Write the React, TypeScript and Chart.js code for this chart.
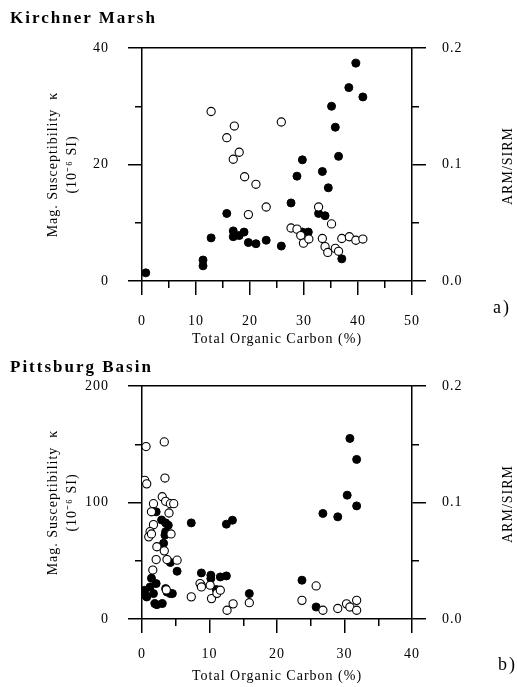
import React, { useEffect, useRef } from 'react';
import { Chart, registerables } from 'chart.js';

Chart.register(...registerables);

const FONT = '"Liberation Serif", "Times New Roman", serif';

// ---------- Kirchner Marsh (panel a) ----------
// open circles: magnetic susceptibility kappa (10^-6 SI), left axis
const kmKappaToc = [12.8, 15.7, 17.1, 18.0, 16.9, 19.0, 21.1, 19.7, 23.0, 25.8, 27.6, 28.7, 29.4, 29.9, 30.9, 32.7, 35.1, 33.4, 33.9, 34.4, 35.8, 36.4, 37.0, 38.4, 39.6, 40.9];
const kmKappa = [29.1, 24.6, 26.6, 22.1, 20.9, 17.9, 16.6, 11.4, 12.7, 27.3, 9.1, 8.9, 7.8, 6.5, 7.2, 12.7, 9.8, 7.3, 5.9, 4.9, 5.6, 5.1, 7.3, 7.6, 7.0, 7.2];
// filled circles: ARM/SIRM, right axis
const kmArmToc = [0.7, 11.3, 11.3, 12.8, 15.7, 16.9, 16.9, 18.0, 18.9, 19.7, 21.1, 23.0, 25.8, 27.6, 28.7, 29.7, 29.7, 30.8, 32.7, 33.9, 33.4, 34.5, 35.1, 35.8, 36.4, 37.0, 38.3, 39.6, 40.9];
const kmArm = [0.007, 0.018, 0.013, 0.037, 0.058, 0.043, 0.038, 0.039, 0.042, 0.033, 0.032, 0.035, 0.030, 0.067, 0.090, 0.104, 0.042, 0.042, 0.058, 0.056, 0.094, 0.080, 0.150, 0.132, 0.107, 0.019, 0.166, 0.187, 0.158];
const kmXTicks = [0, 10, 20, 30, 40, 50];
const kmXMinor = [5, 15, 25, 35, 45];
const kmKappaTicks = [0, 20, 40];
const kmKappaMinor = [10, 30];

// ---------- Pittsburg Basin (panel b) ----------
const pbKappaToc = [0.6, 3.3, 0.4, 0.7, 3.4, 3.0, 3.5, 4.2, 4.7, 1.7, 4.0, 1.4, 1.7, 1.2, 1.0, 1.4, 4.3, 2.2, 3.3, 2.1, 3.7, 5.2, 1.6, 3.6, 7.3, 8.6, 8.8, 10.1, 10.3, 11.1, 11.6, 12.6, 13.5, 15.9, 23.7, 25.8, 26.8, 29.0, 30.3, 30.8, 31.8, 31.8];
const pbKappa = [148, 152, 119, 116, 121, 105, 101, 99, 99, 99, 91, 92, 81, 75, 70.5, 73, 73, 62, 58.5, 51, 51, 50.5, 42, 25, 19, 30.4, 27.5, 29, 17.5, 22, 24.7, 7.5, 13, 14, 16, 28.4, 7.5, 9, 13, 10.3, 16, 7.5];
const pbArmToc = [2.1, 2.9, 3.5, 3.9, 3.5, 3.4, 3.2, 4.2, 5.2, 7.3, 12.5, 13.4, 8.8, 8.8, 10.2, 10.2, 11.6, 12.5, 11.0, 15.9, 0.4, 0.7, 0.5, 1.2, 1.4, 2.1, 1.7, 1.9, 2.2, 3.0, 3.5, 3.7, 4.2, 4.5, 23.7, 25.8, 26.8, 29.0, 30.4, 31.8, 30.8, 31.8];
const pbArm = [0.092, 0.085, 0.0825, 0.0805, 0.075, 0.072, 0.065, 0.0485, 0.041, 0.0825, 0.0814, 0.0848, 0.0395, 0.029, 0.0376, 0.0347, 0.0361, 0.037, 0.0253, 0.0218, 0.0247, 0.0189, 0.0203, 0.0275, 0.035, 0.0304, 0.0218, 0.0132, 0.0123, 0.0132, 0.0261, 0.0232, 0.0218, 0.0218, 0.0333, 0.0103, 0.0906, 0.0877, 0.1063, 0.0971, 0.155, 0.137];
const pbXTicks = [0, 10, 20, 30, 40];
const pbXMinor = [5, 15, 25, 35];
const pbKappaTicks = [0, 100, 200];
const pbKappaMinor = [50, 150];

// shared right axis
const armTicks = [0.0, 0.1, 0.2];
const armMinor = [0.05, 0.15];

type PanelCfg = any;

const LW = 1.5;
const INK = '#000';

const spacingPlugin = {
  id: 'spacing',
  beforeDraw(chart: any) {
    chart.ctx.letterSpacing = '1px';
  },
};

function setTicks(values: number[]) {
  return (s: any) => { s.ticks = values.map((v) => ({ value: v })); };
}

function Panel({ cfg, top }: { cfg: PanelCfg; top: number }) {
  const ref = useRef<HTMLCanvasElement | null>(null);
  useEffect(() => {
    if (!ref.current) return;
    const tickFont = { family: FONT, size: 14 };
    const xMin = cfg.xTicks[0], xMax = cfg.xTicks[cfg.xTicks.length - 1];
    const yMin = cfg.yTicks[0], yMax = cfg.yTicks[cfg.yTicks.length - 1];
    const aMin = armTicks[0], aMax = armTicks[armTicks.length - 1];
    const majorGrid = { display: true, drawOnChartArea: false, drawTicks: true, tickLength: 14, color: INK, lineWidth: LW };
    const minorGrid = { display: true, drawOnChartArea: false, drawTicks: true, tickLength: 7, color: INK, lineWidth: LW };
    const solidBorder = { display: true, color: INK, width: LW };
    const noBorder = { display: false };
    const hiddenTicks = { display: false, autoSkip: false };
    const chart = new Chart(ref.current, {
      type: 'scatter',
      data: {
        datasets: [
          { label: 'kappa', data: cfg.kToc.map((x: number, i: number) => ({ x, y: cfg.k[i] })), xAxisID: 'x', yAxisID: 'y', pointRadius: 4.1, pointBorderWidth: 1.1, pointBackgroundColor: '#fff', pointBorderColor: INK },
          { label: 'ARM/SIRM', data: cfg.aToc.map((x: number, i: number) => ({ x, y: cfg.a[i] })), xAxisID: 'x', yAxisID: 'y2', pointRadius: 4, pointBorderWidth: 1, pointBackgroundColor: INK, pointBorderColor: INK },
        ],
      },
      options: {
        animation: false,
        responsive: false,
        maintainAspectRatio: false,
        events: [],
        layout: { padding: { top: cfg.areaTop, left: 0, right: 0, bottom: 0 } },
        plugins: { legend: { display: false }, tooltip: { enabled: false }, title: { display: false } },
        scales: {
          x: {
            type: 'linear', axis: 'x', position: 'bottom', weight: 0, display: true, min: xMin, max: xMax,
            afterBuildTicks: setTicks(cfg.xTicks),
            afterFit: (s: any) => { s.height = cfg.xHeight; },
            grid: majorGrid, border: solidBorder,
            ticks: { padding: cfg.xPad, font: tickFont, color: INK, maxRotation: 0, autoSkip: false, callback: (t: any) => String(t) },
            title: { display: true, text: 'Total Organic Carbon (%)', font: tickFont, color: INK, padding: { top: 0, bottom: cfg.xTitlePad } },
          },
          xm: {
            type: 'linear', axis: 'x', position: 'bottom', weight: -10, display: true, min: xMin, max: xMax,
            afterBuildTicks: setTicks(cfg.xMinor),
            afterFit: (s: any) => { s.height = 0; },
            grid: minorGrid, border: noBorder, ticks: hiddenTicks,
          },
          xt: {
            type: 'linear', axis: 'x', position: 'top', weight: 0, display: true, min: xMin, max: xMax,
            afterFit: (s: any) => { s.height = 0; },
            grid: { display: false, drawTicks: false, lineWidth: LW }, border: solidBorder, ticks: hiddenTicks,
          },
          y: {
            type: 'linear', axis: 'y', position: 'left', weight: 0, display: true, min: yMin, max: yMax,
            afterBuildTicks: setTicks(cfg.yTicks),
            afterFit: (s: any) => { s.width = 142; },
            grid: majorGrid, border: solidBorder,
            ticks: { padding: 19, font: tickFont, color: INK, autoSkip: false, callback: (t: any) => String(t) },
            title: { display: true, text: ['Mag. Susceptibility  κ', '(10⁻⁶ SI)'], font: { family: FONT, size: 14, lineHeight: 1.357 }, color: INK, padding: { top: 44, bottom: 0 } },
          },
          ym: {
            type: 'linear', axis: 'y', position: 'left', weight: -10, display: true, min: yMin, max: yMax,
            afterBuildTicks: setTicks(cfg.yMinor),
            afterFit: (s: any) => { s.width = 0; },
            grid: minorGrid, border: noBorder, ticks: hiddenTicks,
          },
          y2: {
            type: 'linear', axis: 'y', position: 'right', weight: 0, display: true, min: aMin, max: aMax,
            afterBuildTicks: setTicks(armTicks),
            afterFit: (s: any) => { s.width = 105; },
            grid: majorGrid, border: solidBorder,
            ticks: { padding: 16, font: tickFont, color: INK, autoSkip: false, callback: (t: any) => Number(t).toFixed(1) },
          },
          y2m: {
            type: 'linear', axis: 'y', position: 'right', weight: -10, display: true, min: aMin, max: aMax,
            afterBuildTicks: setTicks(armMinor),
            afterFit: (s: any) => { s.width = 0; },
            grid: minorGrid, border: noBorder, ticks: hiddenTicks,
          },
        },
      },
      plugins: [spacingPlugin],
    } as any);
    return () => chart.destroy();
  }, [cfg]);
  return (
    <div style={{ position: 'absolute', left: 0, top, width: 517, height: cfg.height }}>
      <canvas ref={ref} width={517} height={cfg.height} style={{ display: 'block' }} />
    </div>
  );
}

const panelA: PanelCfg = {
  height: 348, areaTop: 48, xHeight: 67, xPad: 17.6, xTitlePad: 0.6,
  xTicks: kmXTicks, xMinor: kmXMinor, yTicks: kmKappaTicks, yMinor: kmKappaMinor,
  kToc: kmKappaToc, k: kmKappa, aToc: kmArmToc, a: kmArm,
};
const panelB: PanelCfg = {
  height: 339, areaTop: 38, xHeight: 68, xPad: 12.6, xTitlePad: 2.6,
  xTicks: pbXTicks, xMinor: pbXMinor, yTicks: pbKappaTicks, yMinor: pbKappaMinor,
  kToc: pbKappaToc, k: pbKappa, aToc: pbArmToc, a: pbArm,
};

const titleStyle: React.CSSProperties = {
  position: 'absolute', left: 10, fontFamily: FONT, fontWeight: 'bold', fontSize: 17,
  letterSpacing: '2px', lineHeight: '20px', color: INK, whiteSpace: 'nowrap',
};
const tagStyle: React.CSSProperties = {
  position: 'absolute', fontFamily: FONT, fontSize: 18, letterSpacing: '2px',
  lineHeight: '20px', color: INK, whiteSpace: 'nowrap',
};
const rightTitleStyle: React.CSSProperties = {
  position: 'absolute', left: 507.5, fontFamily: FONT, fontSize: 14, letterSpacing: '1px',
  lineHeight: '16px', color: INK, whiteSpace: 'nowrap',
  transform: 'translate(-50%, -50%) rotate(-90deg)',
};

export default function App() {
  return (
    <div style={{ position: 'absolute', left: 0, top: 0, width: 517, height: 687, background: '#fff', overflow: 'hidden' }}>
      <Panel cfg={panelA} top={0} />
      <Panel cfg={panelB} top={348} />
      <div style={{ ...titleStyle, top: 7.5 }}>Kirchner Marsh</div>
      <div style={{ ...titleStyle, top: 356.5 }}>Pittsburg Basin</div>
      <div style={{ ...rightTitleStyle, top: 166 }}>ARM/SIRM</div>
      <div style={{ ...rightTitleStyle, top: 504 }}>ARM/SIRM</div>
      <div style={{ ...tagStyle, left: 493, top: 297 }}>a)</div>
      <div style={{ ...tagStyle, left: 498, top: 654 }}>b)</div>
    </div>
  );
}
